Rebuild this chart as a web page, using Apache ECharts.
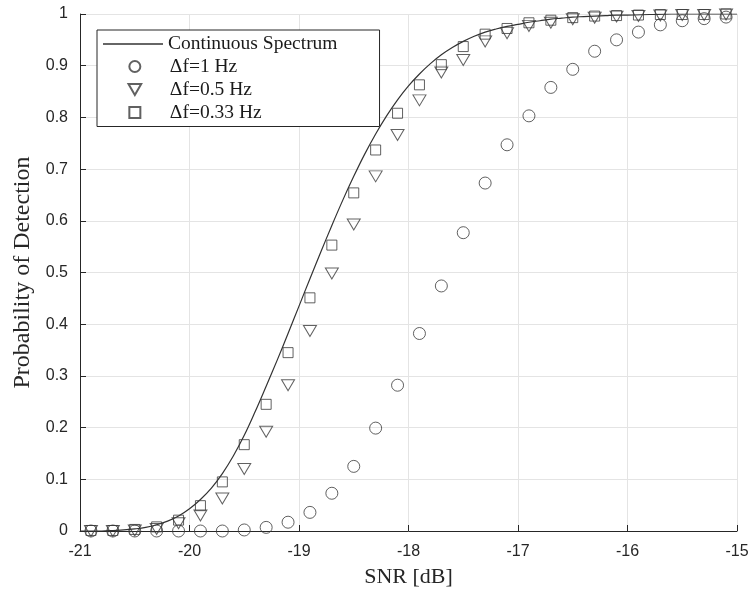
<!DOCTYPE html>
<html>
<head>
<meta charset="utf-8">
<title>Probability of Detection vs SNR</title>
<script src="https://cdn.jsdelivr.net/npm/echarts@6/dist/echarts.min.js"></script>
<style>
  html, body { margin: 0; padding: 0; background: #ffffff; }
  #chart { width: 752px; height: 593px; }
</style>
</head>
<body>
<div id="chart"></div>
<script>
// SNR grid for the continuous-spectrum curve (dB)
const snrCurve = [
  -21.0, -20.9, -20.8, -20.7, -20.6, -20.5, -20.4, -20.3, -20.2, -20.1,
  -20.0, -19.9, -19.8, -19.7, -19.6, -19.5, -19.4, -19.3, -19.2, -19.1,
  -19.0, -18.9, -18.8, -18.7, -18.6, -18.5, -18.4, -18.3, -18.2, -18.1,
  -18.0, -17.9, -17.8, -17.7, -17.6, -17.5, -17.4, -17.3, -17.2, -17.1,
  -17.0, -16.9, -16.8, -16.7, -16.6, -16.5, -16.4, -16.3, -16.2, -16.1,
  -16.0, -15.8, -15.6, -15.4, -15.2, -15.0
];
const pdContinuous = [
  0.000, 0.000, 0.000, 0.001, 0.002, 0.004, 0.007, 0.012, 0.019, 0.029,
  0.043, 0.061, 0.083, 0.111, 0.145, 0.185, 0.231, 0.280, 0.330, 0.382,
  0.435, 0.488, 0.540, 0.591, 0.640, 0.686, 0.729, 0.768, 0.803, 0.834,
  0.861, 0.884, 0.904, 0.921, 0.935, 0.947, 0.957, 0.965, 0.971, 0.976,
  0.980, 0.984, 0.987, 0.990, 0.992, 0.994, 0.995, 0.996, 0.997, 0.998,
  0.998, 0.999, 1.000, 1.000, 1.000, 1.000
];

// SNR values of the simulated (discrete-bin) results (dB)
const snrMarkers = [
  -20.9, -20.7, -20.5, -20.3, -20.1, -19.9, -19.7, -19.5, -19.3, -19.1,
  -18.9, -18.7, -18.5, -18.3, -18.1, -17.9, -17.7, -17.5, -17.3, -17.1,
  -16.9, -16.7, -16.5, -16.3, -16.1, -15.9, -15.7, -15.5, -15.3, -15.1
];
const pdDf1 = [
  0.000, 0.000, 0.000, 0.000, 0.000, 0.000, 0.000, 0.002, 0.007, 0.017,
  0.036, 0.073, 0.125, 0.199, 0.282, 0.382, 0.474, 0.577, 0.673, 0.747,
  0.803, 0.858, 0.893, 0.928, 0.950, 0.965, 0.979, 0.987, 0.991, 0.994
];
const pdDf05 = [
  0.000, 0.000, 0.001, 0.004, 0.015, 0.030, 0.063, 0.120, 0.192, 0.282,
  0.387, 0.498, 0.593, 0.686, 0.766, 0.833, 0.887, 0.911, 0.947, 0.963,
  0.977, 0.983, 0.990, 0.993, 0.995, 0.996, 0.997, 0.998, 0.998, 0.999
];
const pdDf033 = [
  0.001, 0.001, 0.003, 0.008, 0.021, 0.049, 0.095, 0.167, 0.245, 0.345,
  0.451, 0.553, 0.654, 0.737, 0.808, 0.863, 0.902, 0.937, 0.961, 0.972,
  0.983, 0.988, 0.993, 0.996, 0.997, 0.998, 0.999, 0.999, 0.999, 1.000
];

const seriesNames = ['Continuous Spectrum', '\u0394f=1 Hz', '\u0394f=0.5 Hz', '\u0394f=0.33 Hz'];
const xTicks = { min: -21, max: -15, step: 1 };
const yTicks = { min: 0, max: 1, step: 0.1 };

const pair = (xs, ys) => xs.map((x, i) => [x, ys[i]]);

const INK = '#262626';
const MARK = '#3a3a3a';
const GRIDC = '#e4e4e4';
const SERIF = '"Liberation Serif", "DejaVu Serif", serif';
const SANS = '"Liberation Sans", Arial, Helvetica, sans-serif';

// marker shapes: open circle, downward triangle, open square
const SYM_TRI = 'path://M0,0L12,0L6,10.4Z';
const SYM_SQ = 'path://M0,0L10,0L10,10L0,10Z';

// legend frame geometry
const LEG_X = 97, LEG_Y = 30, PAD_T = 4, PAD_L = 6;
const ICON_W = 60, MARK_ICON = 11;
const ROW = 19.5, GAP = 3;
const legendText = { fontFamily: SERIF, fontSize: 19.5, color: '#1a1a1a' };

const chart = echarts.init(document.getElementById('chart'), null, { renderer: 'canvas' });

const markerStyle = { color: 'rgba(0,0,0,0)', borderColor: MARK, borderWidth: 1 };

chart.setOption({
  animation: false,
  backgroundColor: '#ffffff',
  grid: { left: 80, right: 15, top: 14, bottom: 61, containLabel: false },
  legend: [
    {
      // framed legend box holding the line entry
      orient: 'vertical',
      left: LEG_X,
      top: LEG_Y,
      data: [{ name: seriesNames[0], icon: 'rect' }],
      itemWidth: ICON_W,
      itemHeight: 1.3,
      padding: [PAD_T, 42, 5 + 3 * (ROW + GAP), PAD_L],
      borderColor: INK,
      borderWidth: 1,
      backgroundColor: '#ffffff',
      selectedMode: false,
      textStyle: legendText,
      z: 4
    },
    {
      // marker entries stacked inside the same frame; the box is anchored
      // at the icon's left edge, so offset by the centring gap
      orient: 'vertical',
      left: LEG_X + PAD_L + (ICON_W - MARK_ICON) / 2,
      top: LEG_Y + PAD_T + ROW + GAP,
      data: seriesNames.slice(1),
      itemWidth: ICON_W,
      itemHeight: MARK_ICON,
      itemGap: GAP,
      padding: 0,
      selectedMode: false,
      textStyle: legendText,
      z: 5
    }
  ],
  xAxis: {
    type: 'value',
    min: xTicks.min,
    max: xTicks.max,
    interval: xTicks.step,
    name: 'SNR [dB]',
    nameLocation: 'middle',
    nameGap: 35,
    nameTextStyle: { fontFamily: SERIF, fontSize: 22, color: INK },
    axisLine: { onZero: false, lineStyle: { color: INK, width: 1 } },
    axisTick: { inside: true, length: 6, lineStyle: { color: INK } },
    axisLabel: { fontFamily: SANS, fontSize: 16, color: INK, margin: 13 },
    splitLine: { show: true, lineStyle: { color: GRIDC, width: 1 } }
  },
  yAxis: {
    type: 'value',
    min: yTicks.min,
    max: yTicks.max,
    interval: yTicks.step,
    name: 'Probability of Detection',
    nameLocation: 'middle',
    nameGap: 44,
    nameTextStyle: { fontFamily: SERIF, fontSize: 24, color: INK },
    axisLine: { show: true, lineStyle: { color: INK, width: 1 } },
    axisTick: { show: true, inside: true, length: 6, lineStyle: { color: INK } },
    axisLabel: {
      fontFamily: SANS, fontSize: 16, color: INK, margin: 12,
      formatter: v => String(+v.toFixed(1))
    },
    splitLine: { show: true, lineStyle: { color: GRIDC, width: 1 } }
  },
  series: [
    {
      name: seriesNames[0],
      type: 'line',
      data: pair(snrCurve, pdContinuous),
      smooth: 0.4,
      symbol: 'none',
      lineStyle: { color: '#333333', width: 1.2 },
      itemStyle: { color: '#333333' },
      z: 2
    },
    {
      name: seriesNames[1],
      type: 'scatter',
      data: pair(snrMarkers, pdDf1),
      symbol: 'circle',
      symbolSize: 12,
      itemStyle: markerStyle,
      z: 3
    },
    {
      name: seriesNames[2],
      type: 'scatter',
      data: pair(snrMarkers, pdDf05),
      symbol: SYM_TRI,
      symbolSize: [13, 11],
      itemStyle: markerStyle,
      z: 3
    },
    {
      name: seriesNames[3],
      type: 'scatter',
      data: pair(snrMarkers, pdDf033),
      symbol: SYM_SQ,
      symbolSize: 10,
      itemStyle: markerStyle,
      z: 3
    }
  ]
});
</script>
</body>
</html>
